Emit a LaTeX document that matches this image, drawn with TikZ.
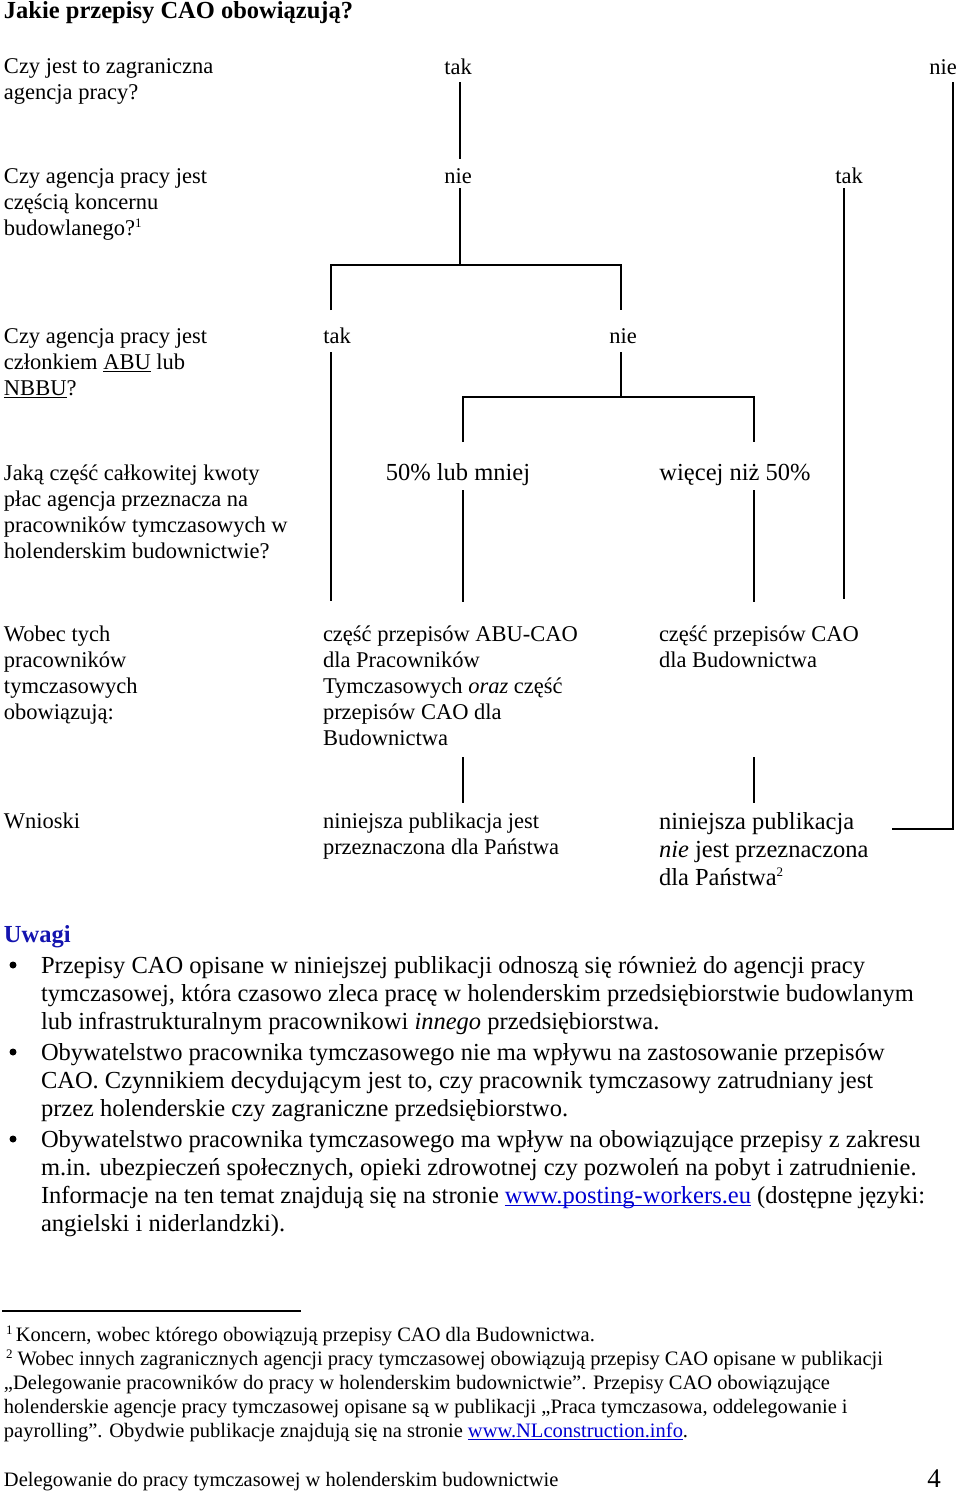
\documentclass[tikz,border=0pt]{standalone}
\usepackage{fontspec}
\setmainfont{Liberation Serif}
\definecolor{hblue}{RGB}{20,20,175}
\definecolor{lblue}{RGB}{0,0,210}
\newcommand\ml[1]{\vtop{\halign{##\hfil\cr#1\crcr}}}
\newcommand\ulx[1]{\setbox0\hbox{#1}\rlap{\rule[-3pt]{\wd0}{1.3pt}}\box0\relax}
\newcommand\supx[2]{\raisebox{#1}{\fontsize{13}{13}\selectfont #2}}
\begin{document}
\begin{tikzpicture}[x=1pt,y=-1pt,
  txt/.style={inner sep=0pt, outer sep=0pt, anchor=base west, font=\fontsize{22.5}{26}\selectfont},
  big/.style={inner sep=0pt, outer sep=0pt, anchor=base west, font=\fontsize{24.5}{28}\selectfont},
  fn/.style={inner sep=0pt, outer sep=0pt, anchor=base west, font=\fontsize{20.5}{24}\selectfont},
  hd/.style={inner sep=0pt, outer sep=0pt, anchor=base west, font=\fontsize{24.5}{28}\selectfont\bfseries},
  lbl/.style={inner sep=0pt, outer sep=0pt, anchor=base, font=\fontsize{22.5}{26}\selectfont},
  lblb/.style={inner sep=0pt, outer sep=0pt, anchor=base, font=\fontsize{24.5}{28}\selectfont},
  conn/.style={line width=1.8pt, line join=miter},
  dotb/.style={circle, fill=black, inner sep=0pt, minimum size=7pt}]
\useasboundingbox (0,0) rectangle (960,1491);

% title and questions
\node[hd] (title) at (4,19) {Jakie przepisy CAO obowiązują?};
\node[txt] (q1) at (4,73) {\ml{Czy jest to zagraniczna\cr agencja pracy?}};
\node[txt] (q2) at (4,183) {\ml{Czy agencja pracy jest\cr częścią koncernu\cr budowlanego?\supx{8pt}{1}}};
\node[txt] (q3) at (4,343) {\ml{Czy agencja pracy jest\cr członkiem \ulx{ABU} lub\cr \ulx{NBBU}?}};
\node[txt] (q4) at (4,480) {\ml{Jaką część całkowitej kwoty\cr płac agencja przeznacza na\cr pracowników tymczasowych w\cr holenderskim budownictwie?}};
\node[txt] (q5) at (4,641) {\ml{Wobec tych\cr pracowników\cr tymczasowych\cr obowiązują:}};
\node[txt] (q6) at (4,828) {Wnioski};

% answer labels
\node[lbl] (t1) at (458,74) {tak};
\node[lbl] (n1) at (943,74) {nie};
\node[lbl] (n2) at (458,183) {nie};
\node[lbl] (t2) at (849,183) {tak};
\node[lbl] (t3) at (337,343) {tak};
\node[lbl] (n3) at (623,343) {nie};
\node[lblb] (p1) at (458,480) {50\% lub mniej};
\node[lblb] (p2) at (735,480) {więcej niż 50\%};

% outcomes
\node[txt] (m1) at (323,641) {\ml{część przepisów ABU-CAO\cr dla Pracowników\cr Tymczasowych \emph{oraz} część\cr przepisów CAO dla\cr Budownictwa}};
\node[txt] (r1) at (659,641) {\ml{część przepisów CAO\cr dla Budownictwa}};
\node[txt] (m2) at (323,828) {\ml{niniejsza publikacja jest\cr przeznaczona dla Państwa}};
\node[big] (r2) at (659,829) {\ml{niniejsza publikacja\cr \emph{nie} jest przeznaczona\cr dla Państwa\supx{9pt}{2}}};

% connectors
\coordinate (j1) at (460,265);
\coordinate (j2) at (621,397);
\draw[conn] ([shift={(2,8)}]t1.base) -- ([shift={(2,-24)}]n2.base);
\draw[conn] ([shift={(2,5)}]n2.base) -- (j1);
\draw[conn] ([shift={(-6,-33)}]t3.base) |- (j1) -| ([shift={(-2,-33)}]n3.base);
\draw[conn] ([shift={(-6,9)}]t3.base) -- ([shift={(8,-40)}]m1.base west);
\draw[conn] ([shift={(-2,9)}]n3.base) -- (j2);
\draw[conn] ([shift={(5,-38)}]p1.base) |- (j2) -| ([shift={(19,-38)}]p2.base);
\draw[conn] ([shift={(5,10)}]p1.base) -- ([shift={(140,-39)}]m1.base west);
\draw[conn] ([shift={(19,10)}]p2.base) -- ([shift={(95,-39)}]r1.base west);
\draw[conn] ([shift={(-5,5)}]t2.base) -- ([shift={(185,-42)}]r1.base west);
\draw[conn] ([shift={(10,8)}]n1.base) |- ([shift={(233,0)}]r2.base west);
\draw[conn] ([shift={(140,116)}]m1.base west) -- ([shift={(140,-25)}]m2.base west);
\draw[conn] ([shift={(95,116)}]r1.base west) -- ([shift={(95,-26)}]r2.base west);

% remarks
\node[hd, text=hblue] (uw) at (4,942) {Uwagi};
\node[dotb] (d1) at (13,965) {};
\node[dotb] (d2) at (13,1052) {};
\node[dotb] (d3) at (13,1139) {};
\node[big] (b1) at (41,973) {\ml{Przepisy CAO opisane w niniejszej publikacji odnoszą się również do agencji pracy\cr tymczasowej, która czasowo zleca pracę w holenderskim przedsiębiorstwie budowlanym\cr lub infrastrukturalnym pracownikowi \emph{innego} przedsiębiorstwa.}};
\node[big] (b2) at (41,1060) {\ml{Obywatelstwo pracownika tymczasowego nie ma wpływu na zastosowanie przepisów\cr CAO. Czynnikiem decydującym jest to, czy pracownik tymczasowy zatrudniany jest\cr przez holenderskie czy zagraniczne przedsiębiorstwo.}};
\node[big] (b3) at (41,1147) {\ml{Obywatelstwo pracownika tymczasowego ma wpływ na obowiązujące przepisy z zakresu\cr m.in. ubezpieczeń społecznych, opieki zdrowotnej czy pozwoleń na pobyt i zatrudnienie.\cr Informacje na ten temat znajdują się na stronie \textcolor{lblue}{\ulx{www.posting-workers.eu}} (dostępne języki:\cr angielski i niderlandzki).}};

% footnotes
\draw[line width=1.2pt] (2,1311) -- (301,1311);
\node[fn] (f1) at (6,1341) {\supx{7pt}{1}\,Koncern, wobec którego obowiązują przepisy CAO dla Budownictwa.};
\node[fn] (f2) at (4,1365) {\ml{\hspace{2pt}\supx{7pt}{2} Wobec innych zagranicznych agencji pracy tymczasowej obowiązują przepisy CAO opisane w publikacji\cr „Delegowanie pracowników do pracy w holenderskim budownictwie”. Przepisy CAO obowiązujące\cr holenderskie agencje pracy tymczasowej opisane są w publikacji „Praca tymczasowa, oddelegowanie i\cr payrolling”. Obydwie publikacje znajdują się na stronie \textcolor{lblue}{\ulx{www.NLconstruction.info}}.}};
\node[fn] (foot) at (4,1486) {Delegowanie do pracy tymczasowej w holenderskim budownictwie};
\node[inner sep=0pt, anchor=base east, font=\fontsize{27}{30}\selectfont] (pg) at (941,1487) {4};
\end{tikzpicture}
\end{document}
